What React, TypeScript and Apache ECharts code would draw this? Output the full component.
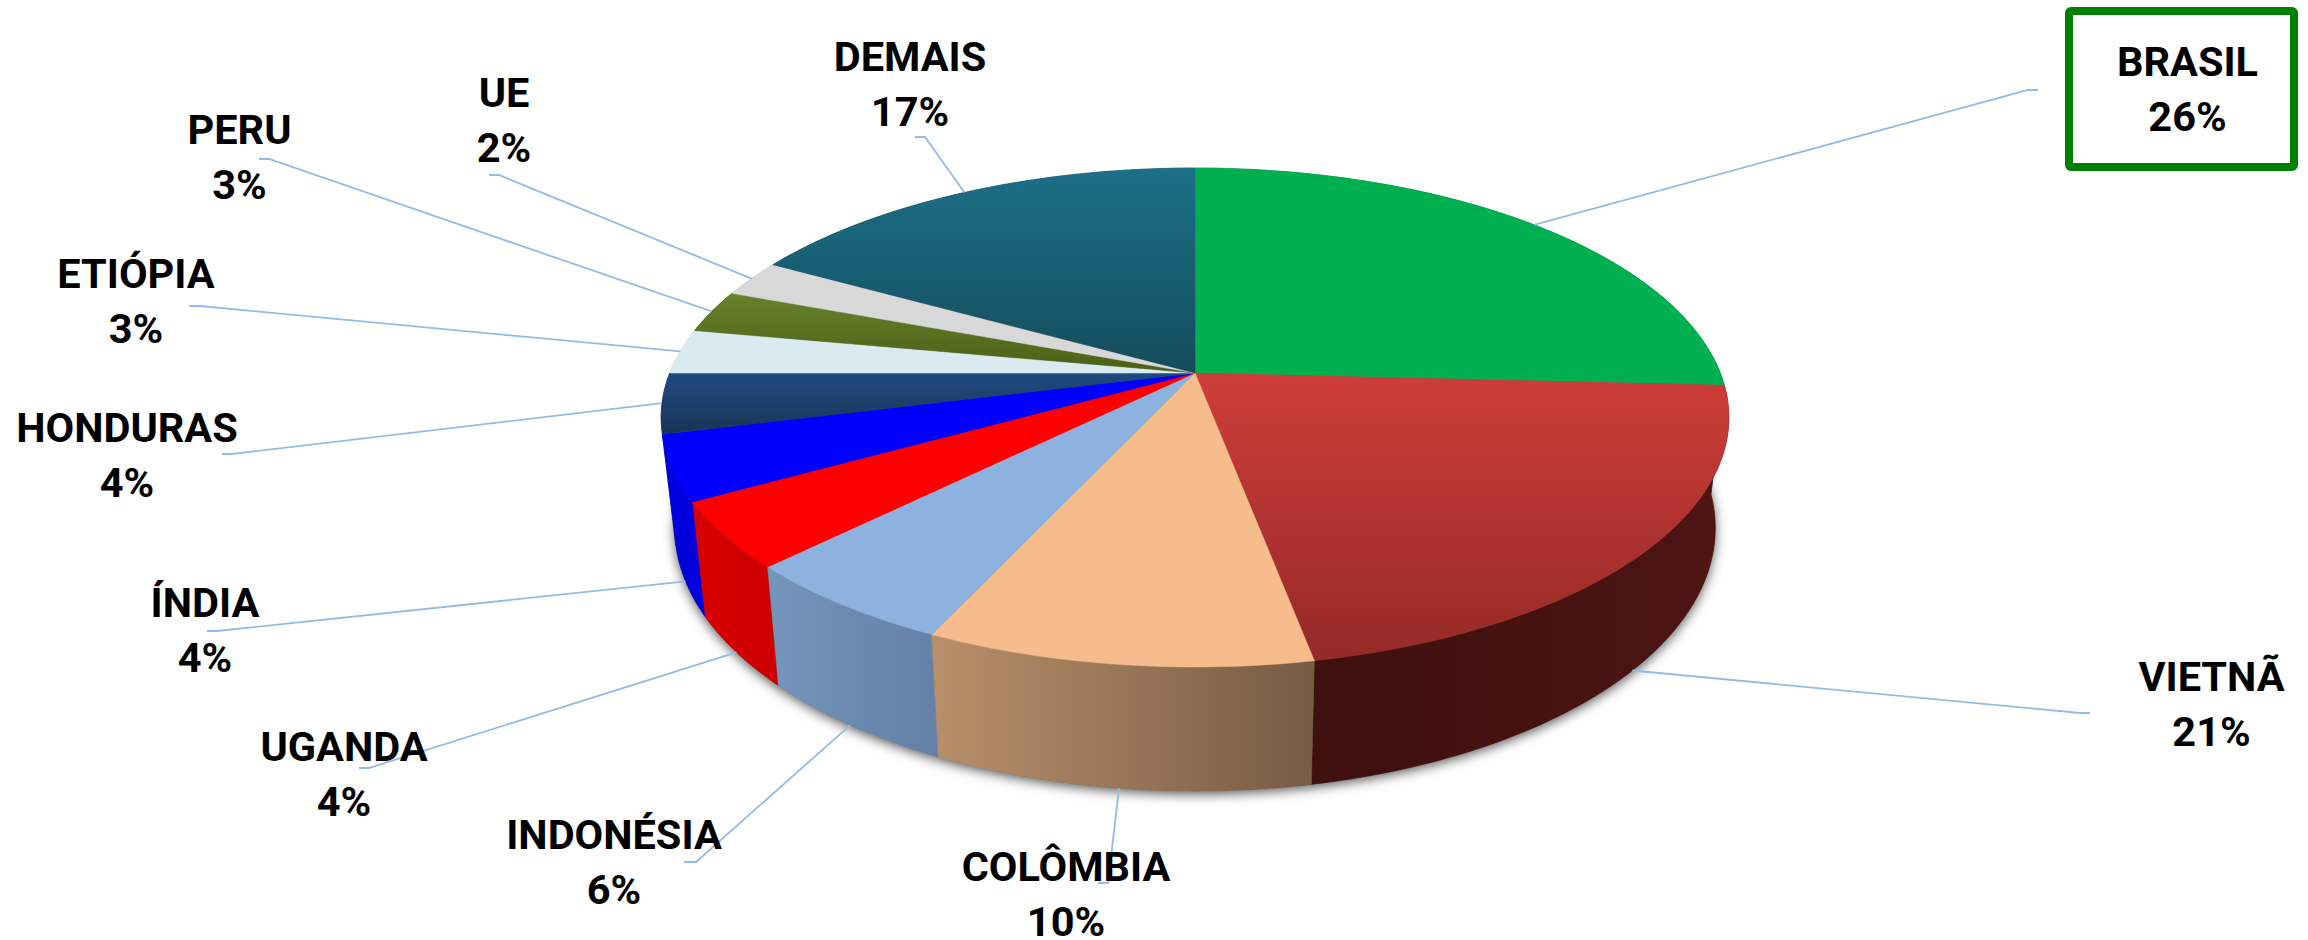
import React, { useEffect, useRef } from "react";
import * as echarts from "echarts";

const categories = ["BRASIL", "VIETNÃ", "COLÔMBIA", "INDONÉSIA", "UGANDA", "ÍNDIA", "HONDURAS", "ETIÓPIA", "PERU", "UE", "DEMAIS"];
const shares = [25.8, 21.2, 9.9, 5.7, 4.3, 4.2, 3.9, 2.9, 2.8, 2.4, 16.9];

const topFills: [string, string][] = [
  ["#00B050", "#00B050"],
  ["#CE3D39", "#952A27"],
  ["#F7BC8C", "#F7BC8C"],
  ["#8DB2DF", "#8DB2DF"],
  ["#FF0000", "#FF0000"],
  ["#0000FF", "#0000FF"],
  ["#1F4A80", "#193556"],
  ["#D9EBF1", "#D9EBF1"],
  ["#66832A", "#4B5F18"],
  ["#D8D8D8", "#D8D8D8"],
  ["#1C7088", "#144C5C"],
];
const wallFills: [string, string][] = [
  ["#006E32", "#006E32"],
  ["#3E100E", "#4E1513"],
  ["#B8906A", "#775B45"],
  ["#7595BC", "#6380A6"],
  ["#D80000", "#CC0000"],
  ["#0000DC", "#0000DC"],
  ["#122C4C", "#122C4C"],
  ["#A8B8BE", "#A8B8BE"],
  ["#3C4C12", "#3C4C12"],
  ["#A8A8A8", "#A8A8A8"],
  ["#103C4A", "#103C4A"],
];

// Perspective of the pie: the top and bottom rims are each a projected circle.
const CX = 1195;
const PERSP = -0.1784;
const TOP_RIM = { a: 175, b: 373, s: 525.3 };
const BOTTOM_RIM = { a: 169, b: 481, s: 512 };

// Label placement: text centre x, first baseline y, leader elbow and leader end.
const labelLayout = [
  { x: 2187.5, y: 76, elbow: [2028, 90], end: [2038, 90] },
  { x: 2211.5, y: 691, elbow: [2080, 713], end: [2090, 713] },
  { x: 1066, y: 881, elbow: [1108, 883], end: [1098, 883] },
  { x: 614, y: 849, elbow: [696, 862], end: [684, 862] },
  { x: 344, y: 761, elbow: [369, 768], end: [359, 768] },
  { x: 205, y: 617, elbow: [217, 631], end: [207, 631] },
  { x: 127, y: 442, elbow: [232, 454], end: [222, 454] },
  { x: 136, y: 288, elbow: [200, 306], end: [189, 306] },
  { x: 239.5, y: 144, elbow: [269, 159], end: [259, 159] },
  { x: 504, y: 107, elbow: [499, 175], end: [489, 175] },
  { x: 910, y: 71, elbow: [925, 137], end: [915, 137] },
];

const FONT = { fontFamily: "Roboto", fontWeight: 700 as const, fontSize: 41.5 };
const LINE_GAP = 55;
const CAP_MID = 14.5;

const total = shares.reduce((s, v) => s + v, 0);
const startOf = (i: number) => shares.slice(0, i).reduce((s, v) => s + v, 0);

function project(rim: typeof TOP_RIM, turn: number): [number, number] {
  const t = turn * Math.PI * 2;
  const x = Math.sin(t);
  const y = -Math.cos(t);
  const d = 1 + PERSP * y;
  return [CX + (rim.s * x) / d, (rim.a * y + rim.b) / d];
}

function arc(rim: typeof TOP_RIM, from: number, to: number): [number, number][] {
  const n = Math.max(2, Math.ceil((to - from) * 360));
  const pts: [number, number][] = [];
  for (let k = 0; k <= n; k++) pts.push(project(rim, from + ((to - from) * k) / n));
  return pts;
}

function grad(c: [string, string], vertical: boolean) {
  return new echarts.graphic.LinearGradient(0, 0, vertical ? 0 : 1, vertical ? 1 : 0, [
    { offset: 0, color: c[0] },
    { offset: 1, color: c[1] },
  ]);
}

const seriesData = shares.map((v, i) => [i, v, startOf(i)]);
// Walls are painted from the back of the pie to the front.
const depthOf = (row: number[]) => -Math.cos(((row[2] + row[1] / 2) / total) * Math.PI * 2);
const wallData = [...seriesData].sort((p, q) => depthOf(p) - depthOf(q));

export default function App() {
  const ref = useRef<HTMLDivElement>(null);
  useEffect(() => {
    const chart = echarts.init(ref.current!, null, { renderer: "svg" });
    const span = (api: any) => {
      const from = api.value(2) / total;
      return [from, from + api.value(1) / total];
    };
    chart.setOption({
      animation: false,
      backgroundColor: "#ffffff",
      graphic: [
        {
          type: "rect",
          z: 1,
          shape: { x: 2069, y: 11, width: 225, height: 156, r: 2 },
          style: { fill: "#ffffff", stroke: "#008000", lineWidth: 8 },
        },
      ],
      series: [
        {
          type: "custom",
          coordinateSystem: "none",
          silent: true,
          z: 2,
          data: [[0]],
          renderItem: () => ({
            type: "polygon",
            shape: { points: arc(BOTTOM_RIM, 0, 1) },
            style: {
              fill: "#555555",
              shadowBlur: 12,
              shadowColor: "rgba(0,0,0,0.65)",
              shadowOffsetX: 0,
              shadowOffsetY: 3,
            },
          }),
        },
        {
          type: "custom",
          coordinateSystem: "none",
          silent: true,
          z: 3,
          data: wallData,
          renderItem: (_: any, api: any) => {
            const [from, to] = span(api);
            const i = api.value(0);
            const pts = [...arc(TOP_RIM, from, to), ...arc(BOTTOM_RIM, from, to).reverse()];
            const fill = grad(wallFills[i], false);
            return { type: "polygon", shape: { points: pts }, style: { fill, stroke: fill, lineWidth: 0.5 } };
          },
        },
        {
          type: "custom",
          coordinateSystem: "none",
          silent: true,
          z: 4,
          data: seriesData,
          renderItem: (_: any, api: any) => {
            const [from, to] = span(api);
            const i = api.value(0);
            const pts = [[CX, TOP_RIM.b], ...arc(TOP_RIM, from, to)];
            const fill = grad(topFills[i], true);
            return { type: "polygon", shape: { points: pts }, style: { fill, stroke: fill, lineWidth: 0.5 } };
          },
        },
        {
          type: "custom",
          coordinateSystem: "none",
          silent: true,
          z: 5,
          data: seriesData,
          renderItem: (_: any, api: any) => {
            const [from, to] = span(api);
            const i = api.value(0);
            const mid = (from + to) / 2;
            const front = mid > 0.25 && mid < 0.71;
            const start = project(front ? BOTTOM_RIM : TOP_RIM, mid);
            const l = labelLayout[i];
            return {
              type: "polyline",
              shape: { points: [start, l.elbow, l.end] },
              style: { fill: "none", stroke: "#93BBE8", lineWidth: 1.8 },
            };
          },
        },
        {
          type: "custom",
          coordinateSystem: "none",
          silent: true,
          z: 6,
          data: seriesData,
          renderItem: (_: any, api: any) => {
            const i = api.value(0);
            const l = labelLayout[i];
            const text = (t: string, y: number) => ({
              type: "text",
              x: l.x,
              y,
              style: { text: t, ...FONT, fill: "#000000", align: "center", verticalAlign: "middle" },
            });
            return {
              type: "group",
              children: [
                text(categories[i], l.y - CAP_MID),
                text(`${Math.round(api.value(1))}%`, l.y - CAP_MID + LINE_GAP),
              ],
            };
          },
        },
      ],
    });
    return () => chart.dispose();
  }, []);
  return <div ref={ref} style={{ position: "absolute", left: 0, top: 0, width: 2308, height: 940 }} />;
}
